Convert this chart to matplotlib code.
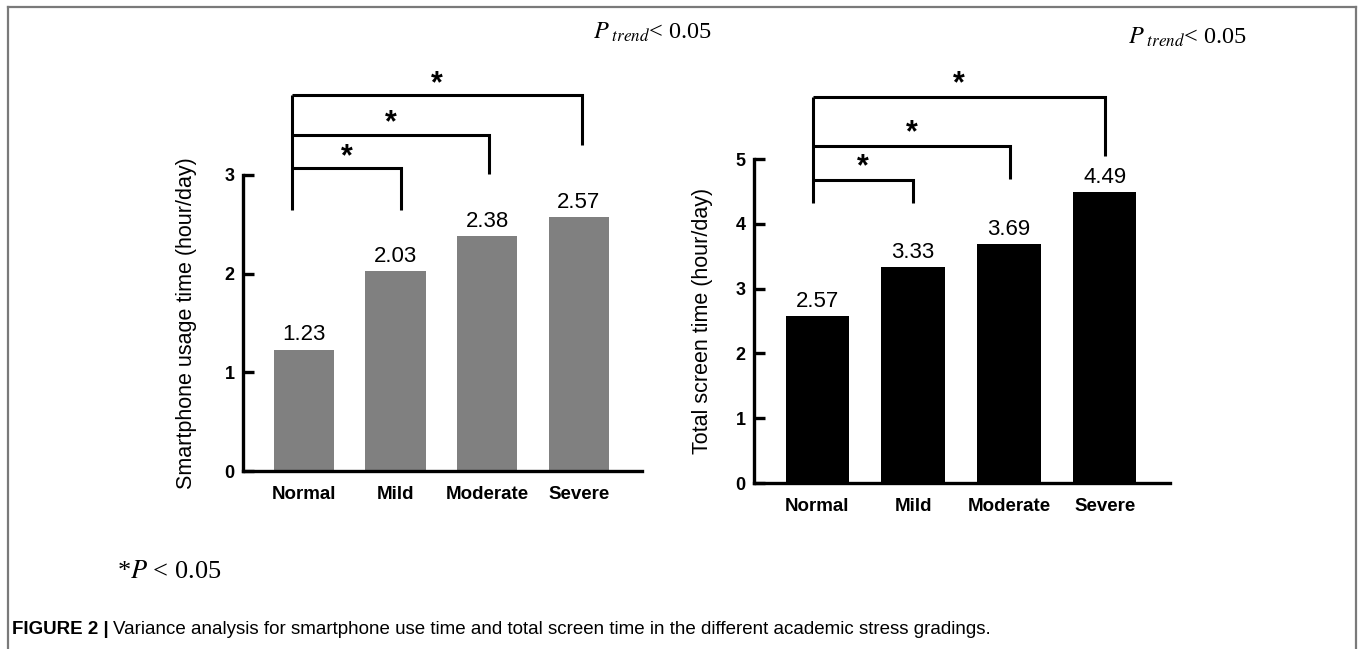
import matplotlib.pyplot as plt
from matplotlib.lines import Line2D

plt.rcParams['font.family'] = 'Liberation Sans'
plt.rcParams['mathtext.fontset'] = 'stix'

# Data
groups = ['Normal', 'Mild', 'Moderate', 'Severe']
phone_time = [1.23, 2.03, 2.38, 2.57]
screen_time = [2.57, 3.33, 3.69, 4.49]
pairs = [(0, 1), (0, 2), (0, 3)]

W, H = 1360, 649
fig = plt.figure(figsize=(W / 100, H / 100), dpi=100)

def px_axes(x0, y0, x1, y1):
    # pixel box (left, top, right, bottom) -> figure fraction
    return fig.add_axes([x0 / W, 1 - y1 / H, (x1 - x0) / W, (y1 - y0) / H])

def draw_panel(ax, vals, color, ymax, ylabel, xlim, lx, rx, levels, star_dy, lpad):
    x = range(len(vals))
    bars = ax.bar(x, vals, width=0.66, color=color)
    ax.set_xlim(*xlim)
    ax.set_ylim(0, ymax)
    ax.set_yticks(range(ymax + 1))
    for s in ['top', 'right']:
        ax.spines[s].set_visible(False)
    for s in ['left', 'bottom']:
        ax.spines[s].set_linewidth(2.4)
    ax.tick_params(axis='y', direction='in', length=8, width=2.4, pad=6,
                   labelsize=13)
    ax.tick_params(axis='x', length=0, pad=11, labelsize=13.5)
    ax.set_xticks(list(x))
    ax.set_xticklabels(groups, fontweight='bold')
    for lab in ax.get_yticklabels():
        lab.set_fontweight('bold')
    ax.set_ylabel(ylabel, fontsize=15.5, labelpad=lpad)
    for b, v in zip(bars, vals):
        ax.annotate(f'{v:.2f}', (b.get_x() + b.get_width() / 2, v),
                    xytext=(0, 3), textcoords='offset points',
                    ha='center', va='bottom', fontsize=16)
    # significance brackets
    left_bottom = levels[0][1]
    top = levels[-1][0]
    ax.plot([lx, lx], [left_bottom, top], color='black', lw=2.2,
            clip_on=False, solid_capstyle='butt')
    for (i, j), (yh, yb), r in zip(pairs, levels, rx):
        xr = j + r
        ax.plot([lx, xr, xr], [yh, yh, yb], color='black', lw=2.2,
                clip_on=False, solid_capstyle='butt', solid_joinstyle='miter')
        ax.text((lx + xr) / 2, yh + star_dy, '*', ha='center', va='center',
                fontsize=22, fontweight='bold', clip_on=False)

ax1 = px_axes(243, 175, 642, 471)
draw_panel(ax1, phone_time, '#808080', 3, 'Smartphone usage time (hour/day)',
           (-0.665, 3.69), -0.13, [0.06, 0.02, 0.04],
           [(3.07, 2.65), (3.41, 3.01), (3.81, 3.30)], 0.11, 20)

ax2 = px_axes(754, 159, 1170, 483)
draw_panel(ax2, screen_time, 'black', 5, 'Total screen time (hour/day)',
           (-0.66, 3.68), -0.04, [0.0, 0.01, 0.0],
           [(4.68, 4.32), (5.20, 4.69), (5.96, 5.05)], 0.2, 16)

# trend and significance notes
fig.text(593 / W, 1 - 32 / H, r'$P_{\ trend}$< 0.05', family='Liberation Serif',
         fontsize=17.5, va='center', ha='left')
fig.text(1128 / W, 1 - 37 / H, r'$P_{\ trend}$< 0.05', family='Liberation Serif',
         fontsize=17.5, va='center', ha='left')
fig.text(117 / W, 1 - 572 / H, r'*$P$ < 0.05', family='Liberation Serif',
         fontsize=19, va='center', ha='left')

# caption
cap1 = fig.text(12 / W, 1 - 630 / H, 'FIGURE 2 |', fontsize=13.5,
                fontweight='bold', va='center', ha='left')
fig.canvas.draw()
bb = cap1.get_window_extent(fig.canvas.get_renderer())
fig.text((bb.x1 + 4) / W, 1 - 630 / H,
         'Variance analysis for smartphone use time and total screen time in the different academic stress gradings.',
         fontsize=13.5, va='center', ha='left')

# frame
fc = '#7a7a7a'
for xs, ys in [([8, 8], [649, 7]), ([8, 1356], [7, 7]), ([1356, 1356], [7, 649])]:
    fig.add_artist(Line2D([v / W for v in xs], [1 - v / H for v in ys],
                          color=fc, lw=1.6, transform=fig.transFigure))

fig.savefig('out.png', dpi=100)
